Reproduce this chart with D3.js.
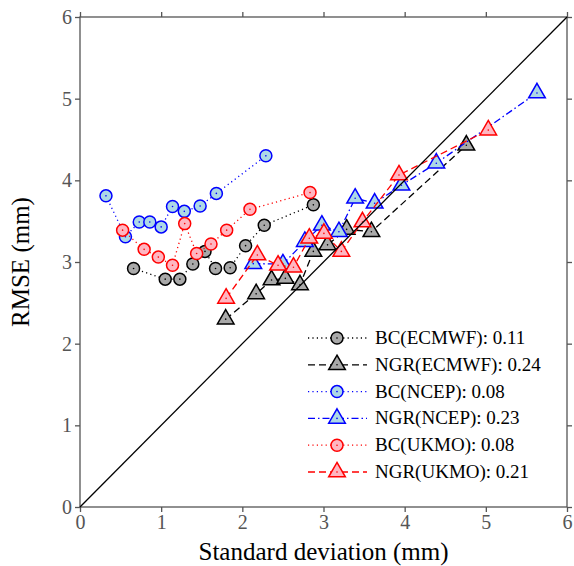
<!DOCTYPE html>
<html><head><meta charset="utf-8">
<script src="https://cdn.jsdelivr.net/npm/d3@7"></script>
</head><body style="margin:0">
<script>
// ---- data ----
const xTicks = [0,1,2,3,4,5,6];
const yTicks = [0,1,2,3,4,5,6];
const bcEcmwfX = [0.66,1.05,1.23,1.39,1.54,1.67,1.85,2.04,2.27,2.875];
const bcEcmwfY = [2.92,2.79,2.79,2.975,3.13,2.92,2.93,3.20,3.45,3.70];
const ngrEcmwfX = [1.795,2.17,2.36,2.53,2.71,2.875,3.05,3.285,3.59,4.76];
const ngrEcmwfY = [2.30,2.61,2.78,2.80,2.72,3.13,3.21,3.40,3.37,4.43];
const bcNcepX = [0.32,0.56,0.73,0.86,1.00,1.14,1.285,1.48,1.68,2.29];
const bcNcepY = [3.81,3.31,3.49,3.49,3.43,3.68,3.62,3.685,3.84,4.30];
const ngrNcepX = [2.135,2.50,2.77,2.98,3.19,3.39,3.63,3.96,4.39,5.63];
const ngrNcepY = [2.98,2.975,3.25,3.45,3.37,3.78,3.72,3.94,4.21,5.07];
const bcUkmoX = [0.525,0.79,0.965,1.14,1.29,1.437,1.614,1.807,2.094,2.834];
const bcUkmoY = [3.39,3.155,3.06,2.96,3.47,3.105,3.22,3.39,3.645,3.85];
const ngrUkmoX = [1.80,2.185,2.44,2.63,2.825,3.005,3.22,3.48,3.93,5.03];
const ngrUkmoY = [2.555,3.085,2.96,2.935,3.29,3.35,3.13,3.49,4.065,4.615];
const seriesNames = ["BC(ECMWF): 0.11","NGR(ECMWF): 0.24","BC(NCEP): 0.08","NGR(NCEP): 0.23","BC(UKMO): 0.08","NGR(UKMO): 0.21"];

const series = [
  {name:seriesNames[0], x:bcEcmwfX, y:bcEcmwfY, shape:"circle", stroke:"#000", fill:"#a9a9a9", dash:"1.2,3.2"},
  {name:seriesNames[1], x:ngrEcmwfX, y:ngrEcmwfY, shape:"tri", stroke:"#000", fill:"#a9a9a9", dash:"7,4"},
  {name:seriesNames[2], x:bcNcepX, y:bcNcepY, shape:"circle", stroke:"#0000ff", fill:"#add8e6", dash:"1.2,3.2"},
  {name:seriesNames[3], x:ngrNcepX, y:ngrNcepY, shape:"tri", stroke:"#0000ff", fill:"#add8e6", dash:"7,3,1.5,3"},
  {name:seriesNames[4], x:bcUkmoX, y:bcUkmoY, shape:"circle", stroke:"#ff0000", fill:"#ffb6c1", dash:"1.2,3.2"},
  {name:seriesNames[5], x:ngrUkmoX, y:ngrUkmoY, shape:"tri", stroke:"#ff0000", fill:"#ffb6c1", dash:"7,4"}
];

const W=574,H=566, m={l:80,r:7,t:17,b:59};
const svg=d3.select("body").append("svg").attr("width",W).attr("height",H).style("font-family","Liberation Serif");
const x=d3.scaleLinear().domain([0,6]).range([m.l,W-m.r]);
const y=d3.scaleLinear().domain([0,6]).range([H-m.b,m.t]);
const font="Liberation Serif";
const axCol="#555";

svg.append("rect").attr("x",x(0)).attr("y",y(6)).attr("width",x(6)-x(0)).attr("height",y(0)-y(6))
  .attr("fill","none").attr("stroke",axCol).attr("stroke-width",1.3);

function styleAxis(g,labels){
  g.attr("font-family",null).attr("font-size",null);
  g.select(".domain").remove();
  g.selectAll(".tick line").attr("stroke",axCol).attr("stroke-width",1.3);
  g.selectAll(".tick text").attr("fill",labels?"#555":"none").attr("font-size",20).style("font-family",font);
}
svg.append("g").attr("transform",`translate(0,${y(0)})`)
  .call(d3.axisBottom(x).tickValues(xTicks).tickFormat(d3.format("d")).tickSize(5).tickPadding(3)).call(g=>styleAxis(g,true));
svg.append("g").attr("transform",`translate(${x(0)},0)`)
  .call(d3.axisLeft(y).tickValues(yTicks).tickFormat(d3.format("d")).tickSize(5).tickPadding(3)).call(g=>styleAxis(g,true));
svg.append("g").attr("transform",`translate(0,${y(6)})`)
  .call(d3.axisTop(x).tickValues(xTicks).tickSize(5).tickFormat("")).call(g=>styleAxis(g,false));
svg.append("g").attr("transform",`translate(${x(6)},0)`)
  .call(d3.axisRight(y).tickValues(yTicks).tickSize(5).tickFormat("")).call(g=>styleAxis(g,false));

const triPath = d3.symbol().type(d3.symbolTriangle).size(120)();
function drawMarker(g,s,cx,cy){
  if(s.shape==="circle"){
    g.append("circle").attr("cx",cx).attr("cy",cy).attr("r",6).attr("fill",s.fill).attr("stroke",s.stroke).attr("stroke-width",1.5);
  } else {
    g.append("path").attr("d",triPath).attr("transform",`translate(${cx},${cy})`).attr("fill",s.fill).attr("stroke",s.stroke).attr("stroke-width",1.5);
  }
  g.append("circle").attr("cx",cx).attr("cy",cy).attr("r",0.8).attr("fill",s.stroke);
}

const line=d3.line().x(d=>x(d[0])).y(d=>y(d[1]));
series.forEach(s=>{
  const pts=s.x.map((v,i)=>[v,s.y[i]]);
  const g=svg.append("g");
  g.append("path").attr("d",line(pts)).attr("fill","none").attr("stroke",s.stroke).attr("stroke-width",1.3).attr("stroke-dasharray",s.dash);
  pts.forEach(p=>drawMarker(g,s,x(p[0]),y(p[1])));
});

svg.append("line").attr("x1",x(0)).attr("y1",y(0)).attr("x2",x(6)).attr("y2",y(6)).attr("stroke","#000").attr("stroke-width",1.3);

const lg=svg.append("g");
series.forEach((s,i)=>{
  const ry=338+i*26.8;
  lg.append("line").attr("x1",308).attr("x2",367).attr("y1",ry).attr("y2",ry).attr("stroke",s.stroke).attr("stroke-width",1.3).attr("stroke-dasharray",s.dash);
  drawMarker(lg,s,337,ry);
  lg.append("text").attr("x",375).attr("y",ry+6).attr("font-size",19).style("font-family",font).attr("fill","#000").text(s.name);
});

svg.append("text").attr("x",(x(0)+x(6))/2).attr("y",560).attr("text-anchor","middle").attr("font-size",25).style("font-family",font).text("Standard deviation (mm)");
svg.append("text").attr("transform",`translate(29,${(y(0)+y(6))/2}) rotate(-90)`).attr("text-anchor","middle").attr("font-size",25).style("font-family",font).text("RMSE (mm)");
</script>
</body></html>
